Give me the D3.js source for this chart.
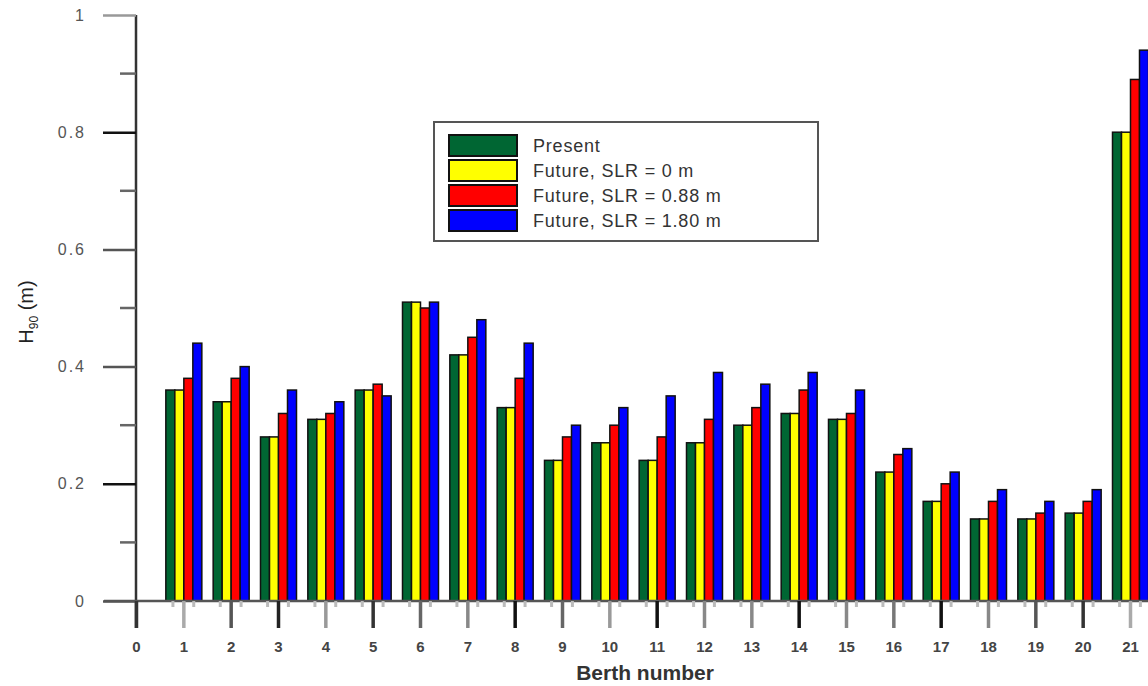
<!DOCTYPE html>
<html><head><meta charset="utf-8">
<script src="https://cdn.jsdelivr.net/npm/d3@7"></script>
<style>body{margin:0;background:#fff}svg{display:block}</style>
</head><body>
<svg id="c" width="1148" height="686"></svg>
<script>
const berths = d3.range(1, 22);
const seriesNames = ["Present", "Future, SLR = 0 m", "Future, SLR = 0.88 m", "Future, SLR = 1.80 m"];
const seriesColors = ["#006633", "#ffff00", "#ff0000", "#0000ff"];
const present = [0.36,0.34,0.28,0.31,0.36,0.51,0.42,0.33,0.24,0.27,0.24,0.27,0.30,0.32,0.31,0.22,0.17,0.14,0.14,0.15,0.80];
const slr0    = [0.36,0.34,0.28,0.31,0.36,0.51,0.42,0.33,0.24,0.27,0.24,0.27,0.30,0.32,0.31,0.22,0.17,0.14,0.14,0.15,0.80];
const slr088  = [0.38,0.38,0.32,0.32,0.37,0.50,0.45,0.38,0.28,0.30,0.28,0.31,0.33,0.36,0.32,0.25,0.20,0.17,0.15,0.17,0.89];
const slr180  = [0.44,0.40,0.36,0.34,0.35,0.51,0.48,0.44,0.30,0.33,0.35,0.39,0.37,0.39,0.36,0.26,0.22,0.19,0.17,0.19,0.94];
const series = [present, slr0, slr088, slr180];
const yTicks = [0, 0.2, 0.4, 0.6, 0.8, 1];
const yTickLabels = ["0", "0.2", "0.4", "0.6", "0.8", "1"];
const xTicks = d3.range(0, 22);

const svg = d3.select("#c");
const x = d3.scaleLinear().domain([0, 21]).range([136, 1130]);
const y = d3.scaleLinear().domain([0, 1]).range([601, 15]);
const barW = 9;
const font = "Arial, 'Liberation Sans', sans-serif";

// bars
series.forEach((vals, si) => {
  svg.append("g").selectAll("rect").data(vals).join("rect")
    .attr("x", (d, i) => x(berths[i]) - 2 * barW + si * barW + 0.5)
    .attr("y", d => y(d))
    .attr("width", barW)
    .attr("height", d => y(0) - y(d))
    .attr("fill", seriesColors[si])
    .attr("stroke", "#111")
    .attr("stroke-width", 1.5);
});

// y axis
svg.append("line").attr("x1", 136).attr("x2", 136).attr("y1", 15).attr("y2", 628).attr("stroke", "#333").attr("stroke-width", 2.5);
const yAxis = d3.axisLeft(y).tickValues(yTicks).tickSize(33).tickFormat((d, i) => yTickLabels[i]);
const ya = svg.append("g").attr("transform", "translate(136,0)").call(yAxis);
ya.select(".domain").remove();
ya.selectAll(".tick line").attr("stroke", (d, i) => ["#555", "#111", "#555", "#555", "#111", "#999"][i]).attr("stroke-width", 2.5);
ya.selectAll(".tick text").attr("x", -50).attr("font-family", font).attr("font-size", 16)
  .attr("letter-spacing", 2).attr("fill", "#555");
const yMinor = d3.range(0.1, 1, 0.2);
svg.append("g").selectAll("line").data(yMinor).join("line")
  .attr("x1", 120).attr("x2", 136).attr("y1", d => y(d)).attr("y2", d => y(d))
  .attr("stroke", "#666").attr("stroke-width", 2.5);

// x baseline
svg.append("line").attr("x1", 104).attr("x2", 1148).attr("y1", y(0)).attr("y2", y(0)).attr("stroke", "#555").attr("stroke-width", 2.5);

// x axis
const xAxis = d3.axisBottom(x).tickValues(xTicks).tickSize(27).tickFormat(d3.format("d"));
const xa = svg.append("g").attr("transform", `translate(0,${y(0)})`).call(xAxis);
xa.select(".domain").remove();
const shades = ["#333", "#aaa", "#555", "#222", "#999", "#333", "#666", "#888", "#111", "#666", "#999", "#111", "#888", "#888", "#111", "#888", "#777", "#111", "#888", "#555", "#333", "#aaa"];
xa.selectAll(".tick line").attr("stroke", (d, i) => shades[i]).attr("stroke-width", 3.5);
xa.selectAll(".tick text").attr("y", 40).attr("font-family", font).attr("font-weight", "bold").attr("font-size", 15).attr("fill", "#444");
const xMinor = [];
berths.forEach(b => { xMinor.push(b - 0.22); xMinor.push(b + 0.22); });
svg.append("g").selectAll("line").data(xMinor).join("line")
  .attr("x1", d => x(d)).attr("x2", d => x(d)).attr("y1", y(0)).attr("y2", y(0) + 6)
  .attr("stroke", "#bbb").attr("stroke-width", 3);

// axis titles
svg.append("text").attr("x", 645).attr("y", 680).attr("text-anchor", "middle")
  .attr("font-family", font).attr("font-weight", "bold").attr("font-size", 21).attr("fill", "#333").text("Berth number");
const yl = svg.append("text").attr("transform", "translate(33,312) rotate(-90)").attr("text-anchor", "middle")
  .attr("font-family", font).attr("font-size", 20).attr("fill", "#222");
yl.append("tspan").text("H");
yl.append("tspan").attr("font-size", 12).attr("dy", 5).text("90");
yl.append("tspan").attr("dy", -5).text(" (m)");

// legend
const lg = svg.append("g");
lg.append("rect").attr("x", 434).attr("y", 122).attr("width", 384).attr("height", 119)
  .attr("fill", "#fff").attr("stroke", "#555").attr("stroke-width", 2);
seriesNames.forEach((n, i) => {
  const yy = 135 + i * 25;
  lg.append("rect").attr("x", 449).attr("y", yy).attr("width", 68).attr("height", 21)
    .attr("fill", seriesColors[i]).attr("stroke", "#111").attr("stroke-width", 2);
  lg.append("text").attr("x", 533).attr("y", yy + 17).attr("font-family", font).attr("font-size", 18)
    .attr("letter-spacing", 0.8).attr("fill", "#333").text(n);
});
</script>
</body></html>
